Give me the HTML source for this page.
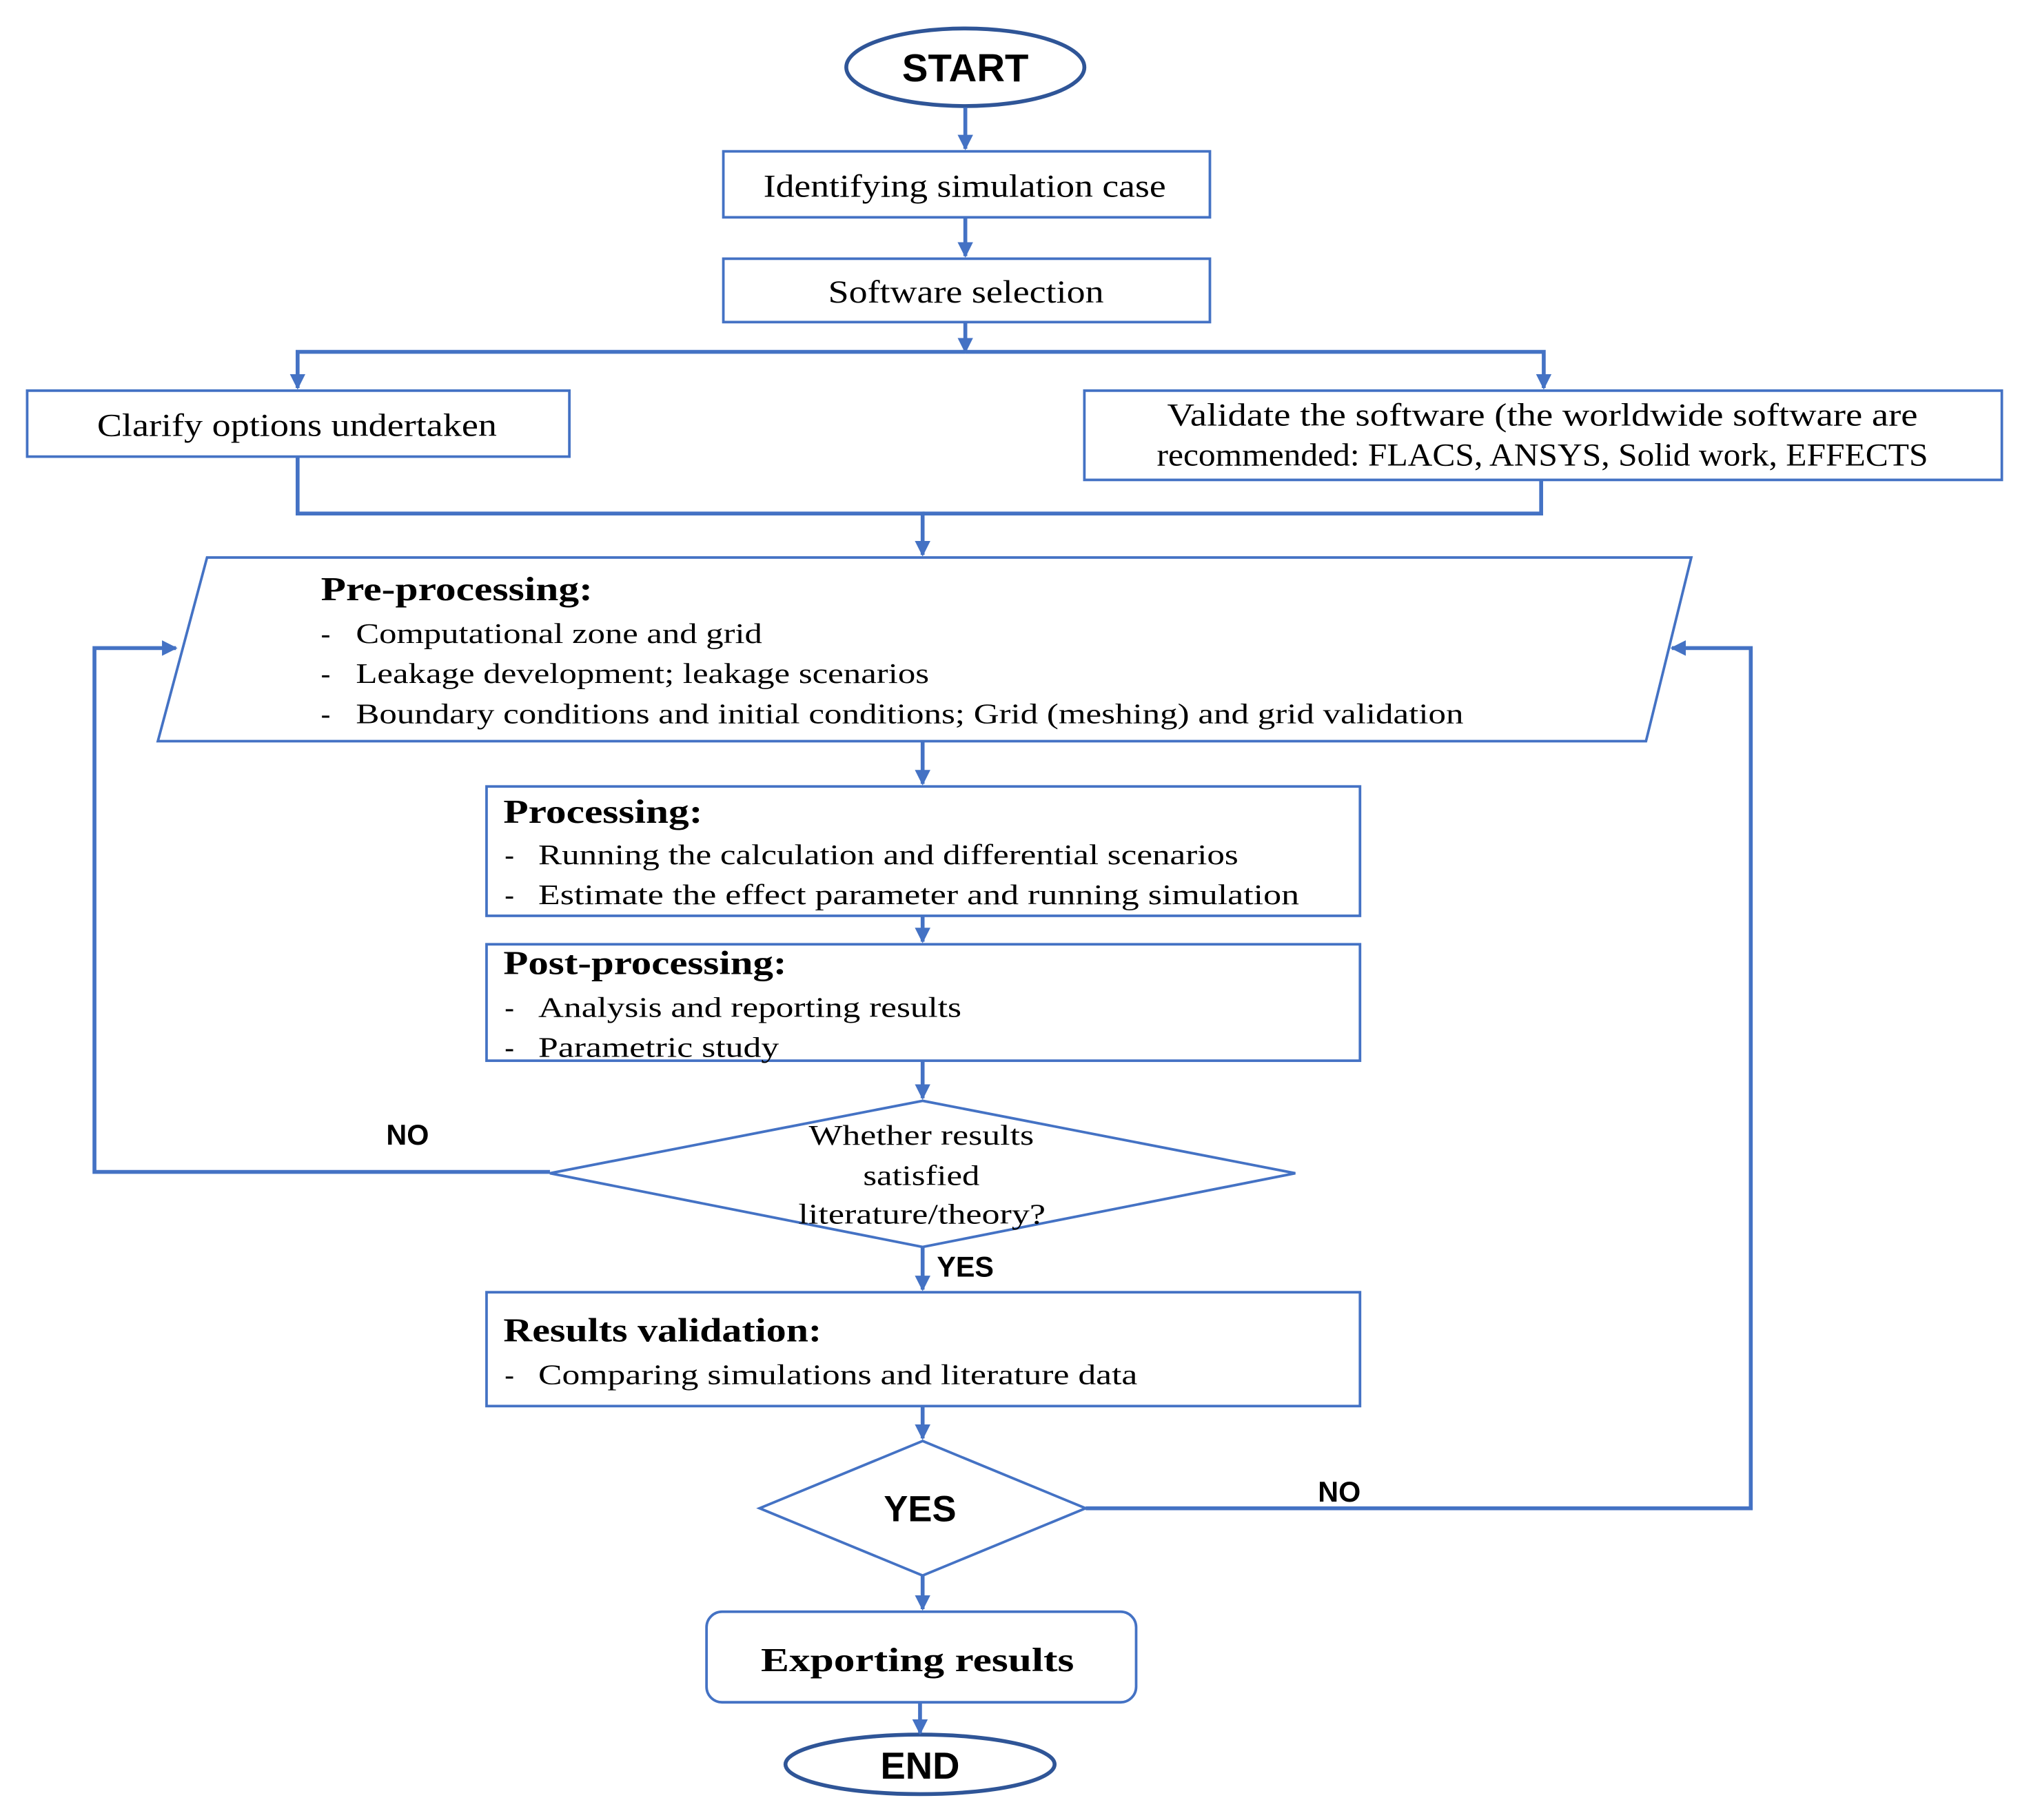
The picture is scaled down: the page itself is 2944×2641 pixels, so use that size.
<!DOCTYPE html>
<html><head><meta charset="utf-8"><style>html,body{margin:0;padding:0;background:#fff}svg{display:block}</style></head>
<body>
<svg width="2944" height="2641" viewBox="0 0 1568 1407" preserveAspectRatio="none" xmlns="http://www.w3.org/2000/svg">
<defs><marker id="a" viewBox="0 0 10 10" refX="9" refY="5" markerWidth="4" markerHeight="4" orient="auto" markerUnits="strokeWidth"><path d="M0,0L10,5L0,10z" fill="#4472C4"/></marker></defs>
<g fill="none" stroke="#4472C4" stroke-width="2">
<ellipse cx="746" cy="52" rx="92" ry="30" stroke-width="3" stroke="#2F5597"/>
<rect x="559" y="117" width="376" height="51"/>
<rect x="559" y="200" width="376" height="49"/>
<rect x="21" y="302" width="419" height="51"/>
<rect x="838" y="302" width="709" height="69"/>
<polygon points="160,431 1307,431 1272,573 122,573"/>
<rect x="376" y="608" width="675" height="100"/>
<rect x="376" y="730" width="675" height="90"/>
<polygon points="713,851 1001,907 713,964 425,907"/>
<rect x="376" y="999" width="675" height="88"/>
<polygon points="713,1114 839,1166 713,1218 587,1166"/>
<rect x="546" y="1246" width="332" height="70" rx="12"/>
<ellipse cx="711" cy="1364" rx="104" ry="23" stroke-width="3" stroke="#2F5597"/>
</g>
<polyline points="1191,371 1191,397 713,397" fill="none" stroke="#4472C4" stroke-width="3"/>
<g fill="none" stroke="#4472C4" stroke-width="3" marker-end="url(#a)">
<line x1="746" y1="83" x2="746" y2="115"/>
<line x1="746" y1="168" x2="746" y2="198"/>
<line x1="746" y1="249" x2="746" y2="272"/>
<polyline points="746,272 230,272 230,300"/>
<polyline points="746,272 1193,272 1193,300"/>
<polyline points="230,353 230,397 713,397 713,429"/>
<line x1="713" y1="573" x2="713" y2="606"/>
<line x1="713" y1="708" x2="713" y2="728"/>
<line x1="713" y1="820" x2="713" y2="849"/>
<line x1="713" y1="964" x2="713" y2="997"/>
<line x1="713" y1="1087" x2="713" y2="1112"/>
<line x1="713" y1="1218" x2="713" y2="1244"/>
<line x1="711" y1="1316" x2="711" y2="1340"/>
<polyline points="425,906 73,906 73,501 136,501"/>
<polyline points="839,1166 1353,1166 1353,501 1292,501"/>
</g>
<g font-family="Liberation Sans, sans-serif" font-weight="bold" fill="#000" text-anchor="middle">
<text x="746" y="63" font-size="30">START</text>
<text x="711" y="1375" font-size="29">END</text>
<text x="315" y="885" font-size="22">NO</text>
<text x="746" y="987" font-size="22">YES</text>
<text x="1035" y="1161" font-size="22">NO</text>
<text x="711" y="1176" font-size="28">YES</text>
</g>
<g font-family="Liberation Serif, serif" fill="#000" lengthAdjust="spacingAndGlyphs">
<g font-size="25">
<text x="590" y="152" textLength="311" lengthAdjust="spacingAndGlyphs">Identifying simulation case</text>
<text x="640" y="234" textLength="213" lengthAdjust="spacingAndGlyphs">Software selection</text>
<text x="75" y="337" textLength="309" lengthAdjust="spacingAndGlyphs">Clarify options undertaken</text>
<text x="902" y="329" textLength="580" lengthAdjust="spacingAndGlyphs">Validate the software (the worldwide software are</text>
<text x="894" y="360" textLength="596" lengthAdjust="spacingAndGlyphs">recommended: FLACS, ANSYS, Solid work, EFFECTS</text>
<text x="588" y="1292" font-weight="bold" font-size="26" textLength="242" lengthAdjust="spacingAndGlyphs">Exporting results</text>
</g>
<g font-size="22">
<text x="625" y="885" textLength="174" lengthAdjust="spacingAndGlyphs">Whether results</text>
<text x="667" y="916" textLength="90" lengthAdjust="spacingAndGlyphs">satisfied</text>
<text x="617" y="946" textLength="191" lengthAdjust="spacingAndGlyphs">literature/theory?</text>
<text x="248" y="464" font-weight="bold" font-size="26" textLength="210" lengthAdjust="spacingAndGlyphs">Pre-processing:</text>
<text x="248" y="497">-</text><text x="275" y="497" textLength="314" lengthAdjust="spacingAndGlyphs">Computational zone and grid</text>
<text x="248" y="528">-</text><text x="275" y="528" textLength="443" lengthAdjust="spacingAndGlyphs">Leakage development; leakage scenarios</text>
<text x="248" y="559">-</text><text x="275" y="559" textLength="856" lengthAdjust="spacingAndGlyphs">Boundary conditions and initial conditions; Grid (meshing) and grid validation</text>
<text x="389" y="636" font-weight="bold" font-size="26" textLength="154" lengthAdjust="spacingAndGlyphs">Processing:</text>
<text x="390" y="668">-</text><text x="416" y="668" textLength="541" lengthAdjust="spacingAndGlyphs">Running the calculation and differential scenarios</text>
<text x="390" y="699">-</text><text x="416" y="699" textLength="588" lengthAdjust="spacingAndGlyphs">Estimate the effect parameter and running simulation</text>
<text x="389" y="753" font-weight="bold" font-size="26" textLength="219" lengthAdjust="spacingAndGlyphs">Post-processing:</text>
<text x="390" y="786">-</text><text x="416" y="786" textLength="327" lengthAdjust="spacingAndGlyphs">Analysis and reporting results</text>
<text x="390" y="817">-</text><text x="416" y="817" textLength="186" lengthAdjust="spacingAndGlyphs">Parametric study</text>
<text x="389" y="1037" font-weight="bold" font-size="26" textLength="246" lengthAdjust="spacingAndGlyphs">Results validation:</text>
<text x="390" y="1070">-</text><text x="416" y="1070" textLength="463" lengthAdjust="spacingAndGlyphs">Comparing simulations and literature data</text>
</g>
</g>
</svg>
</body></html>
